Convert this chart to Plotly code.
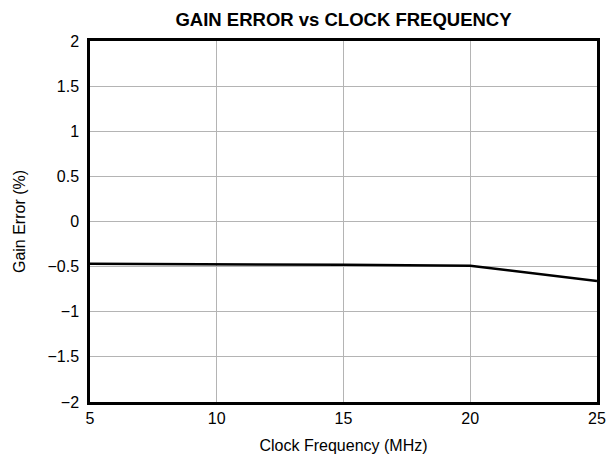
import plotly.graph_objects as go

freq_mhz = [5, 10, 15, 20, 25]
gain_error = [-0.467, -0.47, -0.48, -0.49, -0.66]

x_ticks = [5, 10, 15, 20, 25]
y_ticks = [2, 1.5, 1, 0.5, 0, -0.5, -1, -1.5, -2]
y_tick_text = ["2", "1.5", "1", "0.5", "0", "\u22120.5", "\u22121", "\u22121.5", "\u22122"]

fig = go.Figure()
fig.add_trace(go.Scatter(x=freq_mhz, y=gain_error, mode="lines",
                         line=dict(color="black", width=2.5), showlegend=False))

fig.update_layout(
    width=608, height=458,
    margin=dict(l=90, r=11, t=41, b=56, autoexpand=False),
    paper_bgcolor="white", plot_bgcolor="white",
    font=dict(family="Liberation Sans, Arial, sans-serif", size=16, color="black"),
    title=dict(text="<b>GAIN ERROR vs CLOCK FREQUENCY</b>", x=0.5, xanchor="center",
               xref="paper", y=1 - 20 / 458, yanchor="middle", yref="container",
               font=dict(size=18.5)),
    xaxis=dict(range=[5, 25], tickvals=x_ticks, ticktext=[str(v) for v in x_ticks],
               showgrid=True, gridcolor="#b4b4b4", gridwidth=1,
               showline=True, linecolor="black", linewidth=2.5, mirror=True,
               ticks="", zeroline=False, automargin=False, ticklabelstandoff=0,
               title=dict(text="Clock Frequency (MHz)", standoff=14, font=dict(size=16))),
    yaxis=dict(range=[-2, 2], tickvals=y_ticks, ticktext=y_tick_text,
               showgrid=True, gridcolor="#b4b4b4", gridwidth=1,
               showline=True, linecolor="black", linewidth=2.5, mirror=True,
               ticks="", zeroline=False, automargin=False, ticklabelstandoff=5,
               title=dict(text="Gain Error (%)", standoff=18, font=dict(size=16))),
)

fig.write_html(
    "out.html",
    config={"displayModeBar": False},
    post_script="document.body.style.margin='0';document.body.style.overflow='hidden';",
)
